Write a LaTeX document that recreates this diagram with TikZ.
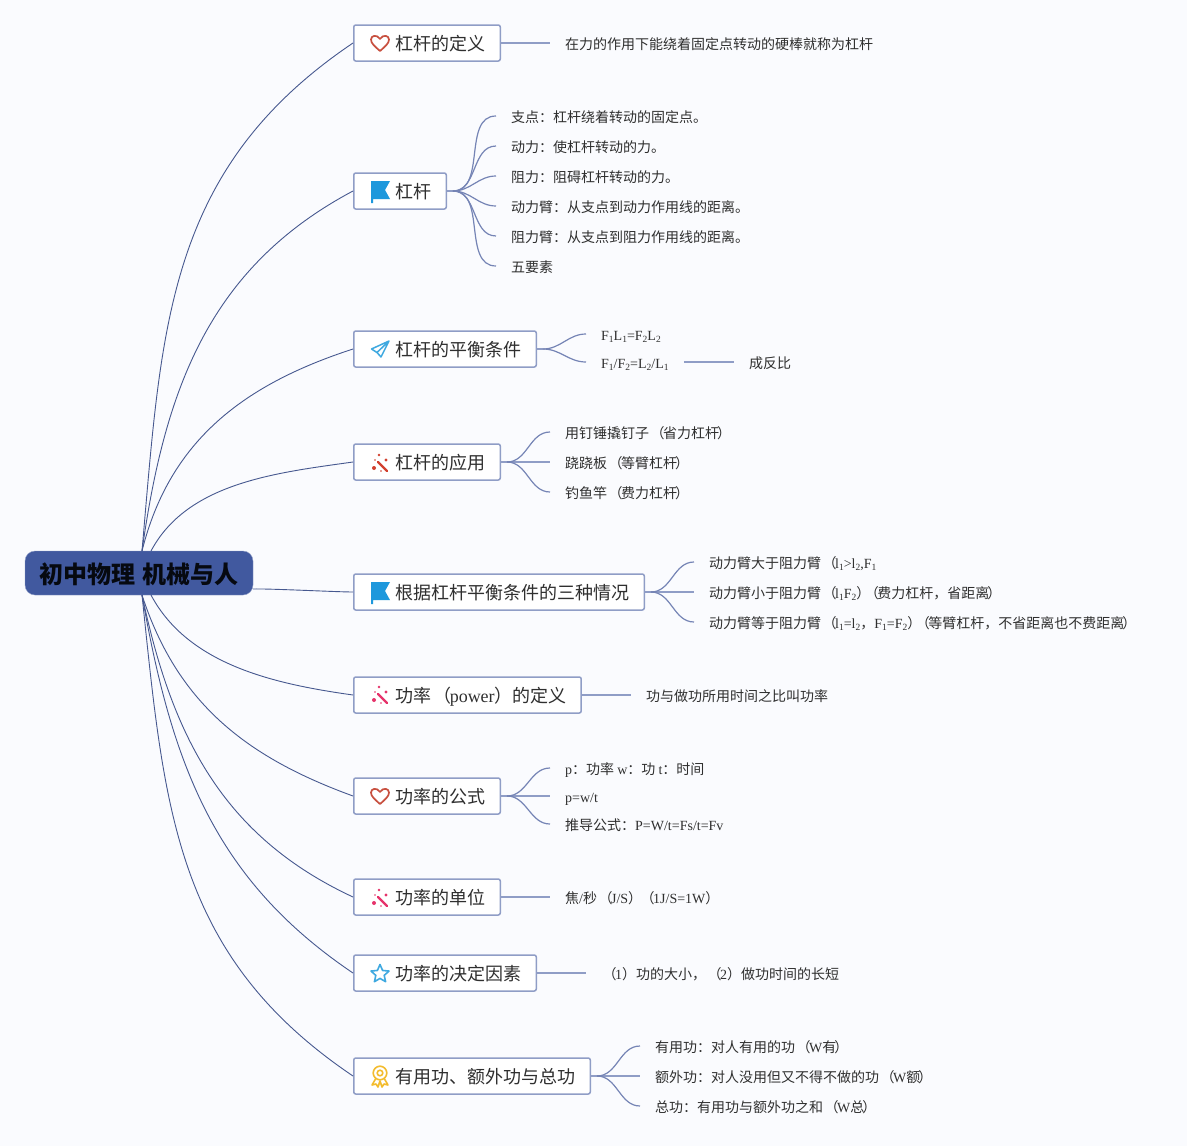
\documentclass[tikz,border=0pt]{standalone}
\usepackage{fontspec}
\setmainfont{Noto Sans CJK SC}
\newfontfamily\latinfont{Liberation Serif}
\newcommand{\lat}[1]{{\latinfont #1}}
\newcommand{\sub}[1]{\raisebox{-2pt}{\fontsize{9.5}{9.5}\selectfont #1}}
\newcommand{\lp}{\hspace{1.5pt}（\hspace{-1.5pt}}
\newcommand{\rp}{\hspace{-2pt}）\hspace{2pt}}
\newcommand{\rpl}{\hspace{0pt}）\hspace{0pt}}
\newcommand{\rpz}{\hspace{0pt}）\hspace{-7pt}}
\definecolor{paper}{HTML}{FAFBFE}
\definecolor{deepblue}{HTML}{41599F}
\definecolor{trunkline}{HTML}{46588F}
\definecolor{twigline}{HTML}{7584B5}
\definecolor{boxline}{HTML}{8F9DC6}
\definecolor{ink}{HTML}{2F2F2F}
\definecolor{heartred}{HTML}{C8503F}
\definecolor{skyblue}{HTML}{1E98DC}
\definecolor{planeblue}{HTML}{3FA9E0}
\definecolor{wandred}{HTML}{D2402E}
\definecolor{wandpink}{HTML}{E6336B}
\definecolor{medalgold}{HTML}{F3BC2E}
\tikzset{
  root node/.style={fill=deepblue,draw=boxline,rounded corners=10pt,minimum width=228pt,
    minimum height=44pt,inner sep=0pt,text=black!90!deepblue,font=\fontsize{24}{24}\selectfont\bfseries,
    text height=21.5pt,text depth=1.5pt},
  main node/.style={draw=boxline,line width=1.5pt,fill=white,rounded corners=2pt,anchor=west,
    minimum height=36pt,inner sep=0pt,text=ink,font=\fontsize{18}{18}\selectfont,
    text height=16.5pt,text depth=1.5pt,
    execute at begin node=\hspace*{42pt},execute at end node=\hspace*{14.5pt}},
  leaf node/.style={anchor=west,inner xsep=15pt,inner ysep=0pt,text=ink,
    font=\fontsize{14}{14}\selectfont,text height=13pt,text depth=1pt},
  trunk/.style={draw=trunkline,line width=0.9pt},
  twig/.style={draw=twigline,line width=1.2pt},
  stem/.style={draw=boxline,line width=1.7pt},
  heart icon/.pic={
    \draw[heartred,line width=1.7pt,line join=round] (0,8) .. controls (-5,3.5) and (-9,0.5) .. (-9,-3.5)
      .. controls (-9,-7.5) and (-3,-9) .. (0,-4) .. controls (3,-9) and (9,-7.5) .. (9,-3.5)
      .. controls (9,0.5) and (5,3.5) .. (0,8) -- cycle;
  },
  flag icon/.pic={
    \fill[skyblue] (-9.5,-10) -- (9.5,-10) -- (4.5,-1) -- (9.5,8) -- (-7.5,8) -- (-7.5,12) -- (-9.5,12) -- cycle;
  },
  plane icon/.pic={
    \draw[planeblue,line width=1.5pt,line join=round] (9,-8) -- (-8.5,0) -- (-3,3.5) -- cycle
      (-3,3.5) -- (1,8) -- (9,-8);
  },
  wand icon/.pic={
    \draw[pic actions,line width=2.4pt,line cap=round] (-2,-1) -- (7,8);
    \fill[pic actions] (-6,5) circle (2) (-1,-8) circle (1.3) (6,-3) circle (1.6) (-5,-3) circle (0.9) (1,8) circle (0.9);
  },
  star icon/.pic={
    \draw[planeblue,line width=1.6pt,line join=round] (-90:9.5) -- (-54:4.4) -- (-18:9.5) -- (18:4.4) -- (54:9.5)
      -- (90:4.4) -- (126:9.5) -- (162:4.4) -- (198:9.5) -- (234:4.4) -- cycle;
  },
  medal icon/.pic={
    \draw[medalgold,line width=1.6pt] (0,-3) circle (6.8) (0,-3) circle (2.8);
    \draw[medalgold,line width=1.6pt,line join=round] (-4.5,3) -- (-8,9) -- (-4,8) -- (-2,11) -- (0,5)
      -- (2,11) -- (4,8) -- (8,9) -- (4.5,3);
  }
}
\begin{document}
\begin{tikzpicture}[x=1pt,y=-1pt]
  \useasboundingbox (0,0) rectangle (1187,1146);
  \fill[paper] (0,0) rectangle (1187,1146);

  \coordinate (top) at (142,551);
  \coordinate (topright) at (151,551);
  \coordinate (side) at (253,589);
  \coordinate (bottom) at (142,595);
  \coordinate (bottomright) at (151,595);

  \node[main node] (defn) at (353,43) {杠杆的定义};
  \node[main node] (lever) at (353,191) {杠杆};
  \node[main node] (balance) at (353,349) {杠杆的平衡条件};
  \node[main node] (usage) at (353,462) {杠杆的应用};
  \node[main node] (cases) at (353,592) {根据杠杆平衡条件的三种情况};
  \node[main node] (powerdef) at (353,695) {功率\lp\lat{power}\rpl 的定义};
  \node[main node] (formula) at (353,796) {功率的公式};
  \node[main node] (unit) at (353,897) {功率的单位};
  \node[main node] (factor) at (353,973) {功率的决定因素};
  \node[main node] (work) at (353,1076) {有用功、额外功与总功};

  \pic at (380,43) {heart icon};
  \pic at (380.5,191) {flag icon};
  \pic at (380,349) {plane icon};
  \pic[wandred] at (380,463) {wand icon};
  \pic at (380.5,592) {flag icon};
  \pic[wandpink] at (380,695) {wand icon};
  \pic at (380,796) {heart icon};
  \pic[wandpink] at (380,898) {wand icon};
  \pic at (380,974) {star icon};
  \pic at (380,1076) {medal icon};

  \node[root node] (root) at (139,573) {初中物理\hspace{8pt}机械与人};

  \node[leaf node] (defn1) at (550,43) {在力的作用下能绕着固定点转动的硬棒就称为杠杆};

  \node[leaf node] (lever1) at (496,116) {支点：杠杆绕着转动的固定点。};
  \node[leaf node] (lever2) at (496,146) {动力：使杠杆转动的力。};
  \node[leaf node] (lever3) at (496,176) {阻力：阻碍杠杆转动的力。};
  \node[leaf node] (lever4) at (496,206) {动力臂：从支点到动力作用线的距离。};
  \node[leaf node] (lever5) at (496,236) {阻力臂：从支点到阻力作用线的距离。};
  \node[leaf node] (lever6) at (496,266) {五要素};

  \node[leaf node] (balance1) at (586,334) {\lat{F\sub{1}L\sub{1}=F\sub{2}L\sub{2}}};
  \node[leaf node] (balance2) at (586,362) {\lat{F\sub{1}/F\sub{2}=L\sub{2}/L\sub{1}}};
  \node[leaf node] (inverse) at (734,362) {成反比};

  \node[leaf node] (usage1) at (550,432) {用钉锤撬钉子\lp 省力杠杆\rp};
  \node[leaf node] (usage2) at (550,462) {跷跷板\lp 等臂杠杆\rp};
  \node[leaf node] (usage3) at (550,492) {钓鱼竿\lp 费力杠杆\rp};

  \node[leaf node] (cases1) at (694,562) {动力臂大于阻力臂\lp\lat{l\sub{1}>l\sub{2},F\sub{1}}};
  \node[leaf node] (cases2) at (694,592) {动力臂小于阻力臂\lp\lat{l\sub{1}F\sub{2}}\rpz\lp 费力杠杆，省距离\rp};
  \node[leaf node] (cases3) at (694,622) {动力臂等于阻力臂\lp\lat{l\sub{1}=l\sub{2}}，\lat{F\sub{1}=F\sub{2}}\rpz\lp 等臂杠杆，不省距离也不费距离\rp};

  \node[leaf node] (powerdef1) at (631,695) {功与做功所用时间之比叫功率};

  \node[leaf node] (formula1) at (550,768) {\lat{p}：功率 \lat{w}：功 \lat{t}：时间};
  \node[leaf node] (formula2) at (550,796) {\lat{p=w/t}};
  \node[leaf node] (formula3) at (550,824) {推导公式：\lat{P=W/t=Fs/t=Fv}};

  \node[leaf node] (unit1) at (550,897) {焦\lat{/}秒\lp\lat{J/S}\rpz\hspace{4pt}\lp\lat{1J/S=1W}\rpl};

  \node[leaf node] (factor1) at (586,973) {\lp\lat{1}\rpl 功的大小，\lp\lat{2}\rpl 做功时间的长短};

  \node[leaf node] (work1) at (640,1046) {有用功：对人有用的功\lp\lat{W}有\rp};
  \node[leaf node] (work2) at (640,1076) {额外功：对人没用但又不得不做的功\lp\lat{W}额\rp};
  \node[leaf node] (work3) at (640,1106) {总功：有用功与额外功之和\lp\lat{W}总\rp};

  % hubs where the fans leave a box
  \coordinate (leverhub) at ([xshift=6pt]lever.east);
  \coordinate (balancehub) at ([xshift=6pt]balance.east);
  \coordinate (usagehub) at ([xshift=6pt]usage.east);
  \coordinate (caseshub) at ([xshift=6pt]cases.east);
  \coordinate (formulahub) at ([xshift=6pt]formula.east);
  \coordinate (workhub) at ([xshift=6pt]work.east);

  \path[trunk]
  (top) edge[out=85,in=214,looseness=1.05] (defn.west)
  (top) edge[out=82,in=208,looseness=1] (lever.west)
  (top) edge[out=76,in=198,looseness=1] (balance.west)
  (topright) edge[out=62,in=188,looseness=0.9] (usage.west)
  (side) edge[out=2,in=180,looseness=0.4] (cases.west)
  (bottomright) edge[out=-62,in=172,looseness=0.9] (powerdef.west)
  (bottom) edge[out=-72,in=160,looseness=1] (formula.west)
  (bottom) edge[out=-78,in=155,looseness=1] (unit.west)
  (bottom) edge[out=-80,in=146,looseness=1] (factor.west)
  (bottom) edge[out=-84,in=146,looseness=1.05] (work.west)
  ;

  \path[stem]
  (defn.east) edge (defn1.west)
  (lever.east) edge (leverhub)
  (balance.east) edge (balancehub)
  (balance2.east) edge (inverse.west)
  (usage.east) edge (usage2.west)
  (cases.east) edge (cases2.west)
  (powerdef.east) edge (powerdef1.west)
  (formula.east) edge (formula2.west)
  (unit.east) edge (unit1.west)
  (factor.east) edge (factor1.west)
  (work.east) edge (work2.west)
  ;

  \path[twig]
  (leverhub) edge[out=0,in=180] (lever1.west)
  (leverhub) edge[out=0,in=180] (lever2.west)
  (leverhub) edge[out=0,in=180] (lever3.west)
  (leverhub) edge[out=0,in=180] (lever4.west)
  (leverhub) edge[out=0,in=180] (lever5.west)
  (leverhub) edge[out=0,in=180] (lever6.west)
  (balancehub) edge[out=0,in=180] (balance1.west)
  (balancehub) edge[out=0,in=180] (balance2.west)
  (usagehub) edge[out=0,in=180] (usage1.west)
  (usagehub) edge[out=0,in=180] (usage3.west)
  (caseshub) edge[out=0,in=180] (cases1.west)
  (caseshub) edge[out=0,in=180] (cases3.west)
  (formulahub) edge[out=0,in=180] (formula1.west)
  (formulahub) edge[out=0,in=180] (formula3.west)
  (workhub) edge[out=0,in=180] (work1.west)
  (workhub) edge[out=0,in=180] (work3.west)
  ;
\end{tikzpicture}
\end{document}
